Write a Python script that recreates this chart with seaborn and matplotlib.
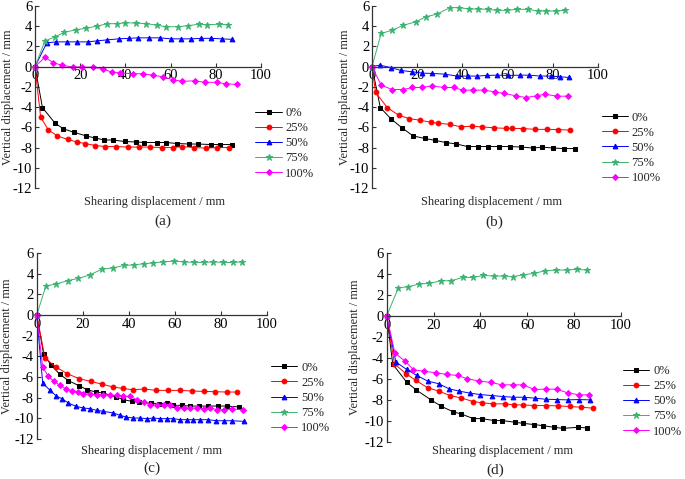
import matplotlib
matplotlib.use("Agg")
import matplotlib.pyplot as plt
import seaborn as sns

# series labels and styles
labels = ["0%", "25%", "50%", "75%", "100%"]
colors = ["#000000", "#ff0000", "#0000ff", "#3cb371", "#ff00ff"]
markers = ["s", "o", "^", "*", "D"]

# ---- panel (a)
a0x = [0, 3.3, 8.9, 12.6, 17.3, 22.7, 26.4, 30.7, 34.4, 39.6, 44.7, 48.4, 54, 58, 63, 68, 72, 78, 82, 87]
a0y = [0, -4.05, -5.6, -6.15, -6.5, -6.85, -7.05, -7.25, -7.25, -7.4, -7.45, -7.5, -7.5, -7.5, -7.6, -7.65, -7.65, -7.7, -7.7, -7.7]
a1x = [0, 2.5, 5.9, 9.9, 14.5, 18.5, 22.2, 26.7, 31.1, 36, 41, 45.9, 50.7, 56, 61.2, 65.2, 70.4, 75.6, 80.7, 85.9]
a1y = [0, -5.0, -6.25, -6.85, -7.2, -7.45, -7.6, -7.8, -7.9, -7.9, -7.95, -7.95, -7.95, -8.0, -8.0, -7.9, -8.0, -8.05, -8.0, -8.0]
a2x = [0, 5.2, 9.3, 14, 18.5, 23.3, 27.4, 32, 37, 41.5, 45.6, 50.4, 55.3, 60, 64.4, 69.2, 73.6, 78, 82.7, 87]
a2y = [0, 2.35, 2.45, 2.45, 2.45, 2.45, 2.55, 2.65, 2.75, 2.8, 2.85, 2.85, 2.85, 2.75, 2.75, 2.75, 2.8, 2.8, 2.75, 2.7]
a3x = [0, 4.4, 8.9, 13, 18.2, 22.4, 27.4, 31.9, 36.3, 40, 44.9, 49.3, 54, 58, 63.3, 67.7, 72.6, 76.3, 81.5, 85.2]
a3y = [0, 2.55, 2.95, 3.4, 3.65, 3.8, 4.0, 4.25, 4.25, 4.35, 4.3, 4.25, 4.1, 3.95, 3.95, 4.05, 4.2, 4.15, 4.2, 4.15]
a4x = [0, 4.4, 8.1, 11.9, 16.6, 21, 25.6, 29.9, 34, 37.8, 43.3, 47.7, 52.3, 56.7, 61, 65.2, 70.7, 75, 80.3, 84.4, 89.3]
a4y = [0, 0.92, 0.4, 0.13, -0.03, -0.03, -0.07, -0.2, -0.55, -0.62, -0.7, -0.7, -0.85, -1.0, -1.3, -1.45, -1.4, -1.55, -1.55, -1.7, -1.75]

# ---- panel (b)
b0x = [0, 3.7, 8.6, 13.3, 18.2, 23.4, 28.1, 32.7, 37.4, 42.3, 46.7, 51.5, 56.2, 61, 66, 71.4, 75.4, 80.3, 84.8, 90]
b0y = [0, -4.05, -5.2, -6.05, -6.85, -7.1, -7.3, -7.5, -7.65, -7.9, -7.9, -7.9, -7.9, -7.9, -7.95, -8.05, -7.95, -8.05, -8.1, -8.1]
b1x = [0, 1.6, 6.8, 11.8, 16.4, 21.2, 26.2, 29, 34.5, 39.2, 44.1, 48.5, 54.1, 59.2, 62, 67, 72.2, 77.4, 82.5, 87.7]
b1y = [0, -2.55, -4.05, -4.8, -5.13, -5.3, -5.5, -5.6, -5.7, -5.95, -5.9, -5.95, -6.05, -6.1, -6.1, -6.12, -6.2, -6.2, -6.22, -6.28]
b2x = [0, 3.4, 8.6, 12.7, 17.5, 22.3, 26.6, 32.2, 37.7, 42.3, 46.6, 50.7, 55.2, 60.4, 65.5, 69.4, 74.4, 79.1, 83.3, 87.1]
b2y = [0, 0.15, -0.1, -0.37, -0.5, -0.64, -0.67, -0.74, -0.93, -0.93, -0.93, -0.87, -0.84, -0.87, -0.84, -0.84, -0.93, -0.93, -1.0, -1.07]
b3x = [0, 4.1, 8.9, 13.8, 19.7, 23.8, 28.6, 34.5, 38.6, 43, 47, 51.2, 55.2, 59.6, 64, 68.9, 73.4, 77, 81.5, 85.5]
b3y = [0, 3.29, 3.59, 4.09, 4.45, 4.94, 5.18, 5.84, 5.84, 5.7, 5.7, 5.67, 5.57, 5.57, 5.67, 5.67, 5.5, 5.5, 5.5, 5.57]
b4x = [0, 4.1, 8.9, 13.8, 17.9, 22.2, 26.6, 31.8, 36.2, 40.1, 44.8, 49.6, 54.4, 58.4, 63.6, 68, 72.9, 76.6, 81.8, 86.7]
b4y = [0, -1.83, -2.26, -2.26, -2.06, -2.06, -1.89, -2.06, -2.06, -2.32, -2.32, -2.32, -2.49, -2.65, -2.88, -3.05, -2.88, -2.72, -2.92, -2.92]

# ---- panel (c)
c0x = [0, 3.0, 6.1, 9.9, 13.8, 18.4, 22, 25.7, 29, 34.5, 37.7, 41.3, 44.6, 49.6, 53.3, 56.5, 59.4, 63, 66.4, 70.3, 74.6, 78.6, 82.6, 88.1]
c0y = [0, -3.77, -4.81, -5.71, -6.35, -6.84, -7.23, -7.45, -7.55, -7.94, -8.19, -8.35, -8.45, -8.52, -8.58, -8.52, -8.74, -8.74, -8.81, -8.81, -8.81, -8.81, -8.81, -8.9]
c1x = [0, 3.6, 8.4, 13.3, 18.5, 23.5, 28.2, 33.3, 37.4, 41.7, 46.8, 51.9, 57.2, 62.3, 67.4, 72.5, 77.5, 82.6, 87]
c1y = [0, -4.16, -5.03, -5.68, -6.16, -6.42, -6.68, -6.97, -7.1, -7.23, -7.16, -7.29, -7.29, -7.29, -7.35, -7.39, -7.42, -7.45, -7.45]
c2x = [0, 2.6, 5.8, 8.4, 11.2, 13.8, 17.1, 20.3, 23.2, 26.1, 29, 33.3, 36.2, 38.8, 42, 44.9, 47.8, 50.7, 53.6, 56.5,
       59.4, 62.3, 65.2, 68.1, 71, 74.6, 78, 81.2, 84.8, 89.9]
c2y = [0, -6.58, -7.29, -7.81, -8.13, -8.52, -8.84, -9.0, -9.06, -9.23, -9.32, -9.48, -9.71, -9.87, -9.97, -9.97, -10.03, -9.97, -10.03, -10.03,
       -10.03, -10.13, -10.13, -10.13, -10.13, -10.13, -10.23, -10.23, -10.23, -10.29]
c3x = [0, 4, 8.4, 13.5, 18.1, 23.2, 28.3, 33.3, 38, 42.3, 46.4, 50.7, 55, 59.7, 63.8, 68.4, 72.8, 76.8, 80.9, 85.2, 89.1]
c3y = [0, 2.84, 3.0, 3.35, 3.55, 3.9, 4.45, 4.58, 4.81, 4.87, 4.97, 5.06, 5.16, 5.23, 5.16, 5.1, 5.1, 5.16, 5.1, 5.1, 5.16]
c4x = [0, 2.6, 5.1, 7.5, 10.1, 12.6, 15.2, 17.8, 20.3, 23.2, 26.1, 29, 31.9, 34.8, 37.7, 40.6, 43.5, 46.4, 49.3, 52.2, 55.1,
       58, 60.9, 63.8, 66.7, 69.6, 72.5, 75.4, 78.3, 81.2, 84.8, 89.6]
c4y = [0, -5.06, -5.94, -6.42, -6.81, -7.13, -7.32, -7.45, -7.61, -7.65, -7.71, -7.71, -7.77, -7.77, -7.87, -7.87, -8.19, -8.45, -8.68, -8.74, -8.68,
       -8.68, -9.0, -9.0, -9.0, -9.0, -9.06, -9.0, -9.16, -9.16, -9.1, -9.16]

# ---- panel (d)
d0x = [0, 2.6, 8.5, 12.5, 18.9, 23.2, 28.4, 31.6, 37, 40.5, 45.9, 49.4, 54.8, 58.1, 62.9, 66.6, 71.4, 75.4, 81.5, 85.4]
d0y = [0, -4.6, -6.3, -7.03, -7.99, -8.59, -9.13, -9.32, -9.77, -9.77, -9.96, -9.96, -10.12, -10.22, -10.34, -10.44, -10.6, -10.7, -10.6, -10.66]
d1x = [0, 3.3, 8.2, 12.5, 17.5, 22.3, 27, 31.7, 36.9, 40.9, 45.5, 50.5, 54.5, 58.3, 63, 67.9, 73, 78.2, 83, 88.2]
d1y = [0, -4.55, -5.5, -6.14, -6.84, -7.16, -7.58, -7.8, -8.15, -8.27, -8.37, -8.37, -8.47, -8.47, -8.53, -8.53, -8.56, -8.62, -8.69, -8.78]
d2x = [0, 3.9, 8.5, 12.8, 17.5, 22.3, 26.6, 31, 35.6, 39.8, 44.8, 49.5, 54, 58.6, 63.3, 67.9, 72.5, 77.2, 81.9, 86.8]
d2y = [0, -4.39, -5.09, -5.66, -6.2, -6.46, -6.94, -7.16, -7.35, -7.48, -7.58, -7.67, -7.74, -7.74, -7.83, -7.93, -7.96, -7.99, -7.96, -7.99]
d3x = [0, 5, 9.2, 13.8, 18.2, 23.2, 27.5, 32.4, 36.7, 41.3, 45.8, 50.1, 54, 58.3, 63, 67.6, 72.3, 76.8, 81.1, 85.3]
d3y = [0, 2.68, 2.77, 3.03, 3.09, 3.34, 3.34, 3.66, 3.66, 3.85, 3.79, 3.79, 3.73, 3.92, 4.04, 4.3, 4.36, 4.36, 4.43, 4.36]
d4x = [0, 3.5, 7.8, 11.4, 16.1, 21, 25.6, 30.3, 34.4, 39.5, 44.5, 49.1, 54, 58.3, 63, 67.9, 72.5, 77.2, 82.1, 86.4]
d4y = [0, -3.53, -4.3, -5.12, -5.28, -5.41, -5.57, -5.67, -5.98, -6.2, -6.33, -6.56, -6.56, -6.56, -7.0, -6.97, -6.97, -7.32, -7.51, -7.51]

sns.set_theme(style="ticks")
plt.rcParams["font.family"] = ["Liberation Serif", "DejaVu Serif"]
plt.rcParams["axes.unicode_minus"] = False

fig = plt.figure(figsize=(6.85, 4.79), dpi=100)

# [left, bottom, width, height], xlabel pos, tag pos, ylabel x, legend anchor
panels = [
    ("(a)", [0.0511, 0.6075, 0.330, 0.380], [(a0x, a0y), (a1x, a1y), (a2x, a2y), (a3x, a3y), (a4x, a4y)],
     (0.53, -0.077), (0.566, -0.185), -0.12, (0.975, 0.445)),
    ("(b)", [0.5430, 0.6075, 0.330, 0.380], [(b0x, b0y), (b1x, b1y), (b2x, b2y), (b3x, b3y), (b4x, b4y)],
     (0.53, -0.077), (0.54, -0.19), -0.12, (1.016, 0.42)),
    ("(c)", [0.0536, 0.0835, 0.336, 0.388], [(c0x, c0y), (c1x, c1y), (c2x, c2y), (c3x, c3y), (c4x, c4y)],
     (0.50, -0.063), (0.50, -0.16), -0.13, (1.019, 0.416)),
    ("(d)", [0.5645, 0.0772, 0.342, 0.395], [(d0x, d0y), (d1x, d1y), (d2x, d2y), (d3x, d3y), (d4x, d4y)],
     (0.496, -0.046), (0.462, -0.148), -0.135, (1.009, 0.407)),
]

marker_sizes = {"s": 3.2, "o": 3.4, "^": 3.4, "*": 4.6, "D": 3.0}

for tag, rect, series, xl_pos, tag_pos, yl_x, leg_anchor in panels:
    ax = fig.add_axes(rect)
    for (xs, ys), lab, col, mk in zip(series, labels, colors, markers):
        sns.lineplot(x=xs, y=ys, ax=ax, color=col, marker=mk, markersize=marker_sizes[mk],
                     markeredgecolor=col, linewidth=0.7, label=lab,
                     estimator=None, sort=False, clip_on=False)
    ax.set_xlim(0, 100)
    ax.set_ylim(-12, 6)
    ax.set_xticks(range(0, 101, 20))
    ax.set_yticks(range(-12, 7, 2))
    ax.spines["top"].set_visible(False)
    ax.spines["right"].set_visible(False)
    ax.spines["bottom"].set_position(("data", 0))
    for s in ("left", "bottom"):
        ax.spines[s].set_color("#333333")
        ax.spines[s].set_linewidth(0.9)
    ax.tick_params(direction="in", length=3, width=0.8, labelsize=10.5, pad=2, colors="#333333",
                   labelcolor="black")
    ax.set_xlabel("")
    ax.set_ylabel("")
    ax.text(xl_pos[0], xl_pos[1], "Shearing displacement / mm", transform=ax.transAxes,
            ha="center", va="center", fontsize=8.8)
    ax.text(tag_pos[0], tag_pos[1], tag, transform=ax.transAxes,
            ha="center", va="center", fontsize=11)
    ax.text(yl_x, 0.5, "Vertical displacement / mm", transform=ax.transAxes,
            ha="center", va="center", rotation=90, fontsize=8.8)
    ax.legend(loc="upper left", bbox_to_anchor=leg_anchor, frameon=False, fontsize=9,
              handlelength=2.1, handletextpad=0.3, labelspacing=0.25,
              borderpad=0, borderaxespad=0)

fig.savefig("out.png", dpi=100)
